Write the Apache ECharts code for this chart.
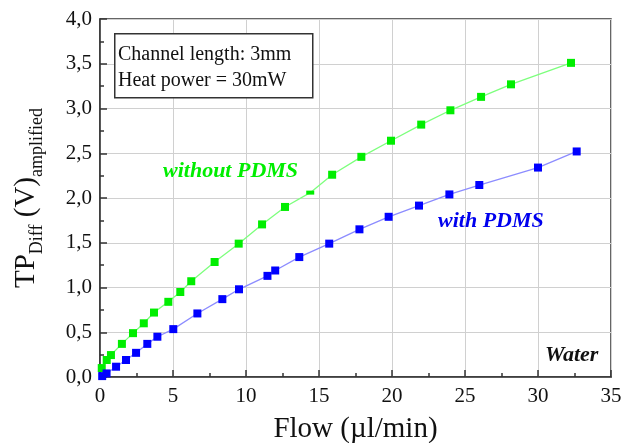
<!DOCTYPE html>
<html>
<head>
<meta charset="utf-8">
<script src="https://cdn.jsdelivr.net/npm/echarts@6/dist/echarts.min.js"></script>
<style>html,body{margin:0;padding:0;background:#fff}#c{width:637px;height:443px}</style>
</head>
<body>
<div id="c"></div>
<script>
// Flow (µl/min) and TP_Diff (V) for the chip without PDMS
const withoutFlow = [0.12, 0.46, 0.75, 1.5, 2.26, 3.0, 3.7, 4.68, 5.5, 6.25, 7.85, 9.5, 11.1, 12.67, 14.4, 15.9, 17.9, 19.93, 22.0, 24.0, 26.1, 28.15, 32.26];
const withoutTP   = [0.10, 0.19, 0.245, 0.37, 0.49, 0.60, 0.72, 0.84, 0.95, 1.07, 1.285, 1.49, 1.705, 1.90, 2.06, 2.26, 2.46, 2.64, 2.82, 2.98, 3.13, 3.27, 3.51];
// Flow and TP_Diff for the chip with PDMS
const withFlow = [0.15, 0.45, 1.1, 1.78, 2.47, 3.24, 3.93, 5.02, 6.67, 8.38, 9.52, 11.47, 12.0, 13.65, 15.7, 17.77, 19.77, 21.85, 23.93, 25.98, 30.0, 32.65];
const withTP   = [0.01, 0.04, 0.115, 0.19, 0.27, 0.37, 0.45, 0.535, 0.71, 0.87, 0.98, 1.13, 1.19, 1.34, 1.49, 1.65, 1.79, 1.915, 2.04, 2.145, 2.34, 2.52];
// tick labels
const xTicks = [0, 5, 10, 15, 20, 25, 30, 35];
const yTicks = [0.0, 0.5, 1.0, 1.5, 2.0, 2.5, 3.0, 3.5, 4.0];
const seriesNames = ['without PDMS', 'with PDMS'];
const boxLines = ['Channel length: 3mm', 'Heat power = 30mW'];

const F = 'Liberation Serif';
const pairs = (xs, ys) => xs.map((x, i) => [x, ys[i]]);
const withoutData = pairs(withoutFlow, withoutTP).map((p, i) =>
  i === 14 ? { value: p, symbolSize: [8, 4] } : p);

const chart = echarts.init(document.getElementById('c'), null, { renderer: 'canvas' });
chart.setOption({
  animation: false,
  backgroundColor: '#fff',
  grid: { left: 100, right: 26, top: 19, bottom: 66, containLabel: false, outerBoundsMode: 'none',
          show: true, borderColor: '#333', borderWidth: 1.5 },
  xAxis: {
    type: 'value', min: xTicks[0], max: xTicks[xTicks.length - 1], interval: 5,
    name: 'Flow (µl/min)', nameLocation: 'middle', nameGap: 38,
    nameTextStyle: { fontFamily: F, fontSize: 29, color: '#111' },
    axisLine: { lineStyle: { color: '#333', width: 1.5 } },
    axisTick: { inside: true, length: 7, lineStyle: { color: '#333', width: 1.5 } },
    minorTick: { show: true, splitNumber: 2, length: 4, lineStyle: { color: '#333', width: 1.5 } },
    axisLabel: { fontFamily: F, fontSize: 21, color: '#111', margin: 9,
      formatter: v => xTicks.includes(v) ? String(v) : '' },
    splitLine: { show: true, lineStyle: { color: '#d0d0d0', width: 1 } }
  },
  yAxis: {
    type: 'value', min: yTicks[0], max: yTicks[yTicks.length - 1], interval: 0.5,
    name: '{a|TP}{b|Diff}{a| (V)}{b|amplified}', nameLocation: 'middle', nameGap: 54,
    nameTextStyle: {
      fontFamily: F, color: '#111',
      rich: {
        a: { fontFamily: F, fontSize: 29, lineHeight: 40, color: '#111' },
        b: { fontFamily: F, fontSize: 18, lineHeight: 10, verticalAlign: 'bottom', color: '#111' }
      }
    },
    axisLine: { show: true, lineStyle: { color: '#333', width: 1.5 } },
    axisTick: { show: true, inside: true, length: 7, lineStyle: { color: '#333', width: 1.5 } },
    minorTick: { show: true, splitNumber: 2, length: 4, lineStyle: { color: '#333', width: 1.5 } },
    axisLabel: { fontFamily: F, fontSize: 21, color: '#111', margin: 8,
      formatter: v => v.toFixed(1).replace('.', ',') },
    splitLine: { show: true, lineStyle: { color: '#d0d0d0', width: 1 } }
  },
  series: [
    { name: seriesNames[0], type: 'line', data: withoutData, symbol: 'rect', symbolSize: 8,
      itemStyle: { color: '#00ee00' }, lineStyle: { color: '#7dff7d', width: 1.3 }, z: 3 },
    { name: seriesNames[1], type: 'line', data: pairs(withFlow, withTP), symbol: 'rect', symbolSize: 8,
      itemStyle: { color: '#0000ff' }, lineStyle: { color: '#8c8cff', width: 1.3 }, z: 3 }
  ],
  graphic: [
    { type: 'rect', left: 114, top: 33, shape: { width: 198, height: 64 },
      style: { fill: '#fff', stroke: '#333', lineWidth: 1.5 }, z: 10 },
    { type: 'text', left: 118, top: 42, z: 11,
      style: { text: boxLines.join('\n'), font: '20px "Liberation Serif"', lineHeight: 26, fill: '#111' } },
    { type: 'text', left: 163, top: 160, z: 11,
      style: { text: seriesNames[0], font: 'italic bold 22px "Liberation Serif"', fill: '#00ee00' } },
    { type: 'text', left: 438, top: 210, z: 11,
      style: { text: seriesNames[1], font: 'italic bold 22px "Liberation Serif"', fill: '#0000ee' } },
    { type: 'text', left: 545, top: 344, z: 11,
      style: { text: 'Water', font: 'italic bold 22px "Liberation Serif"', fill: '#111' } }
  ]
});
</script>
</body>
</html>
